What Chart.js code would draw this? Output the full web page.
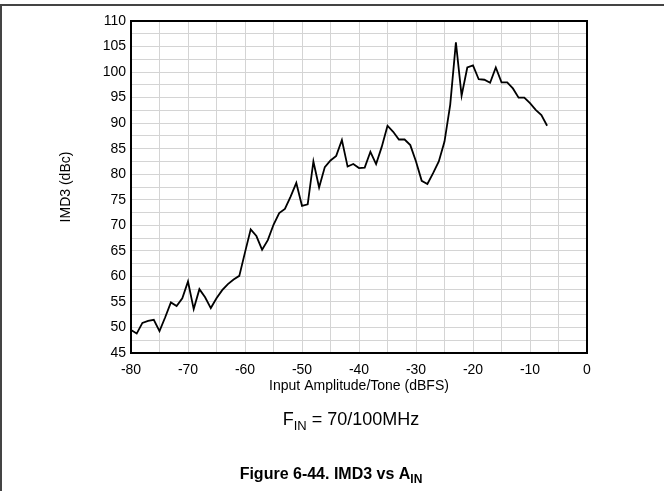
<!DOCTYPE html>
<html>
<head>
<meta charset="utf-8">
<script src="https://cdn.jsdelivr.net/npm/chart.js@4.4.0/dist/chart.umd.min.js"></script>
<style>
html, body { margin: 0; padding: 0; background: #fff; }
#wrap { position: relative; width: 664px; height: 491px; }
</style>
</head>
<body>
<div id="wrap"><canvas id="myChart" width="664" height="491"></canvas></div>
<script>
// input amplitude per tone (dBFS)
const ampIn = [-80, -79, -78, -77, -76, -75, -74, -73, -72, -71,
	-70, -69, -68, -67, -66, -65, -64, -63, -62, -61,
	-60, -59, -58, -57, -56, -55, -54, -53, -52, -51,
	-50, -49, -48, -47, -46, -45, -44, -43, -42, -41,
	-40, -39, -38, -37, -36, -35, -34, -33, -32, -31,
	-30, -29, -28, -27, -26, -25, -24, -23, -22, -21,
	-20, -19, -18, -17, -16, -15, -14, -13, -12, -11,
	-10, -9, -8, -7]
// IMD3 (dBc)
const imd3 = [49.5, 48.8, 50.9, 51.3, 51.5, 49.3, 52.0, 54.9, 54.2, 55.7,
	59.0, 53.6, 57.5, 55.9, 53.8, 55.7, 57.3, 58.5, 59.4, 60.1,
	64.7, 69.2, 67.9, 65.2, 67.1, 70.1, 72.4, 73.2, 75.6, 78.3,
	73.8, 74.1, 82.5, 77.4, 81.4, 82.7, 83.6, 86.7, 81.5, 82.0,
	81.2, 81.3, 84.4, 82.0, 85.4, 89.5, 88.3, 86.8, 86.8, 85.7,
	82.5, 78.7, 78.1, 80.2, 82.5, 86.4, 93.6, 105.8, 95.4, 100.9,
	101.3, 98.6, 98.5, 97.9, 100.9, 98.0, 98.0, 96.8, 95.0, 95.0,
	93.9, 92.6, 91.6, 89.5]

const xTitle = 'Input Amplitude/Tone (dBFS)'
const yTitle = 'IMD3 (dBc)'
const FONT = "'Liberation Sans', Arial, sans-serif"

function drawSub(ctx, parts, cx, baseline, size, bold) {
	// parts: [text, isSub]
	const w = bold ? 'bold ' : ''
	const subSize = Math.round(size * 0.72)
	let total = 0
	parts.forEach(function (p) {
		ctx.font = w + (p[1] ? subSize : size) + 'px ' + FONT
		total += ctx.measureText(p[0]).width
	})
	let x = cx - total / 2
	ctx.textAlign = 'left'
	ctx.textBaseline = 'alphabetic'
	ctx.fillStyle = '#000'
	parts.forEach(function (p) {
		ctx.font = w + (p[1] ? subSize : size) + 'px ' + FONT
		ctx.fillText(p[0], x, baseline + (p[1] ? size * 0.25 : 0))
		x += ctx.measureText(p[0]).width
	})
}

const framePlugin = {
	id: 'frame',
	afterDraw: function (chart) {
		const ctx = chart.ctx
		const a = chart.chartArea
		ctx.save()
		ctx.strokeStyle = '#000'
		ctx.lineWidth = 2
		ctx.strokeRect(a.left, a.top, a.right - a.left, a.bottom - a.top)
		// page frame
		ctx.strokeStyle = '#444'
		ctx.lineWidth = 2
		ctx.beginPath()
		ctx.moveTo(0, 5)
		ctx.lineTo(664, 5)
		ctx.moveTo(1, 5)
		ctx.lineTo(1, 491)
		ctx.stroke()
		drawSub(ctx, [['F', false], ['IN', true], [' = 70/100MHz', false]], 351, 425, 18, false)
		drawSub(ctx, [['Figure 6-44. IMD3 vs A', false], ['IN', true]], 331, 479, 16, true)
		ctx.restore()
	},
}

const ctx = document.getElementById('myChart')
const myChart = new Chart(ctx, {
	type: 'line',
	data: {
		datasets: [
			{
				data: ampIn.map(function (v, i) { return { x: v, y: imd3[i] } }),
				borderColor: '#000',
				borderWidth: 1.8,
				pointRadius: 0,
				tension: 0,
				fill: false,
			},
		],
	},
	options: {
		responsive: false,
		animation: false,
		devicePixelRatio: 1,
		layout: {
			padding: { left: 58, right: 77, top: 21, bottom: 96 },
		},
		plugins: {
			legend: { display: false },
			tooltip: { enabled: false },
		},
		scales: {
			x: {
				type: 'linear',
				min: -80,
				max: 0,
				afterFit: function (s) { s.height = 42 },
				ticks: {
					stepSize: 5,
					autoSkip: false,
					maxRotation: 0,
					padding: 9,
					color: '#000',
					font: { family: FONT, size: 14 },
					callback: function (v) { return v % 10 === 0 ? v : '' },
				},
				grid: { color: '#d4d4d4', lineWidth: 1, drawTicks: false },
				border: { display: false },
				title: {
					display: true,
					text: xTitle,
					color: '#000',
					padding: 0,
					font: { family: FONT, size: 14 },
				},
			},
			y: {
				min: 45,
				max: 110,
				afterFit: function (s) { s.width = 73 },
				ticks: {
					stepSize: 2.5,
					autoSkip: false,
					padding: 5,
					color: '#000',
					font: { family: FONT, size: 14 },
					callback: function (v) { return v % 5 === 0 ? v : '' },
				},
				grid: { color: '#d4d4d4', lineWidth: 1, drawTicks: false },
				border: { display: false },
				title: {
					display: true,
					text: yTitle,
					color: '#000',
					padding: 0,
					font: { family: FONT, size: 14 },
				},
			},
		},
	},
	plugins: [framePlugin],
})
</script>
</body>
</html>
